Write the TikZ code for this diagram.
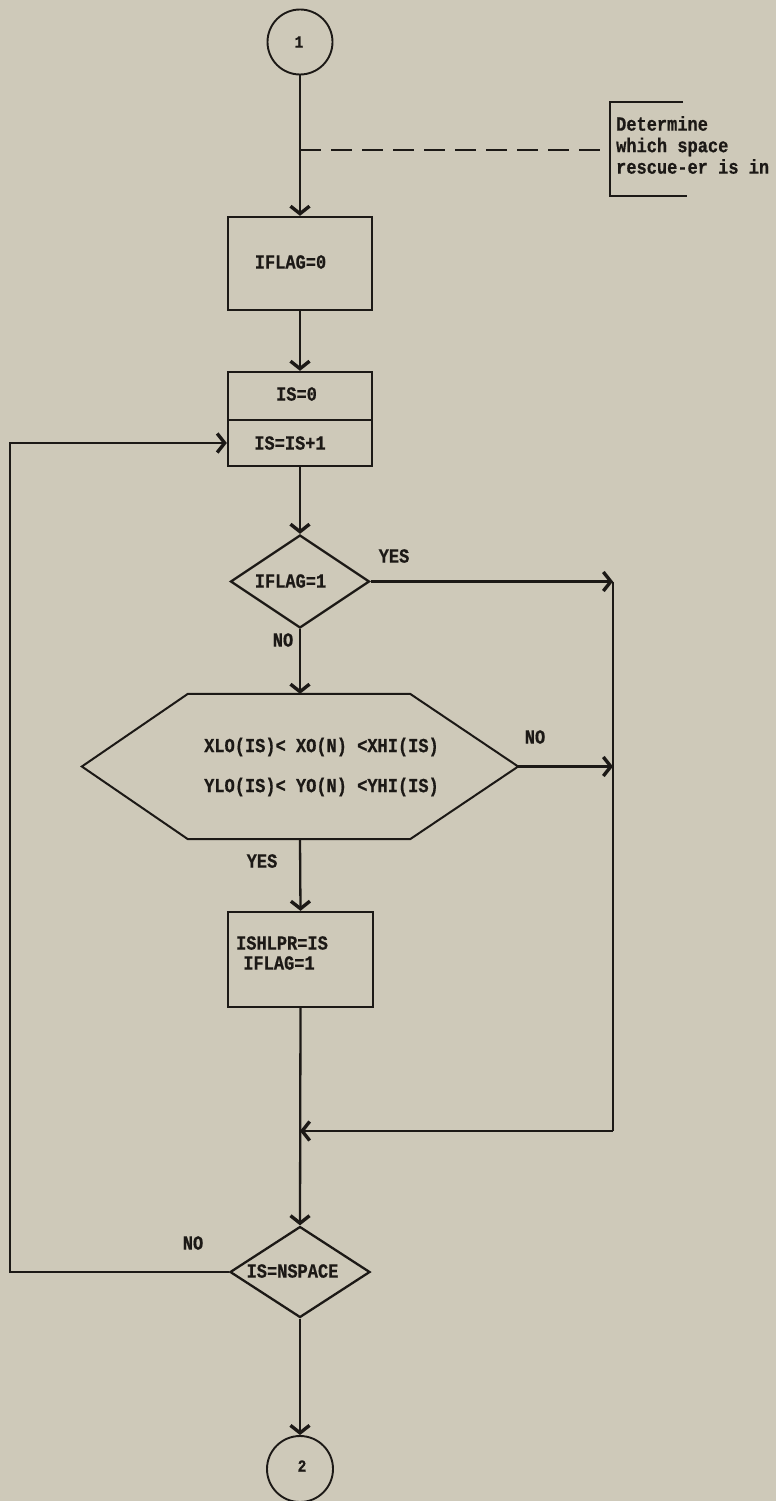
\documentclass[tikz,border=0pt]{standalone}
\usepackage{fontspec}
\newfontfamily\tw[FakeStretch=0.85,FakeBold=0.6]{Liberation Mono}
\usetikzlibrary{arrows.meta,shapes.geometric}
\definecolor{paper}{RGB}{206,201,185}
\definecolor{ink}{RGB}{28,25,22}
\begin{document}
\begin{tikzpicture}[x=1pt,y=-1pt,line width=2.3pt,color=ink,
  arr/.style={-{Straight Barb[length=7.5pt,width=19pt,line width=3.4pt]}},
  txt/.style={font=\tw\bfseries\fontsize{20}{21.5}\selectfont,text=ink,inner sep=0pt},
  box/.style={draw=ink,rectangle,minimum width=144pt,inner sep=0pt},
  dia/.style={draw=ink,diamond,inner sep=0pt},
  conn/.style={draw=ink,circle,inner sep=0pt,line width=1.9pt},
]
\useasboundingbox (0,0) rectangle (776,1501);
\fill[paper] (0,0) rectangle (776,1501);

% shapes
\node[conn,minimum size=65pt] (c1) at (300,42) {};
\node[txt,font=\tw\bfseries\fontsize{17}{19}\selectfont] (c1t) at (299,42) {1};
\node[box,minimum height=93pt] (iflag0) at (300,263.5) {};
\node[txt] (iflag0t) at (290.5,262) {IFLAG=0};
\node[box,minimum height=48pt] (is0) at (300,396) {};
\node[txt] (is0t) at (296.5,394) {IS=0};
\node[box,minimum height=46pt] (is1) at (300,443) {};
\node[txt] (is1t) at (290,443) {IS=IS+1};
\node[dia,minimum width=139pt,minimum height=93pt] (d1) at (300,581.5) {};
\node[txt] (d1t) at (290.5,581) {IFLAG=1};
\node[inner sep=0pt,minimum width=434pt,minimum height=143pt] (hex) at (300,766.5) {};
\draw[line width=2pt] (hex.west) -- ([xshift=106pt]hex.north west) -- ([xshift=-108pt]hex.north east)
  -- (hex.east) -- ([xshift=-108pt]hex.south east) -- ([xshift=106pt]hex.south west) -- cycle;
\node[txt] (hx1) at (321.5,747) {XLO(IS)< XO(N) <XHI(IS)};
\node[txt] (hx2) at (321.5,787) {YLO(IS)< YO(N) <YHI(IS)};
\node[box,minimum width=145pt,minimum height=95pt] (ish) at (300.5,959.5) {};
\node[txt] (isht1) at (282,943) {ISHLPR=IS};
\node[txt] (isht2) at (279,963) {IFLAG=1};
\node[dia,minimum width=140pt,minimum height=91pt] (d2) at (300,1272) {};
\node[txt] (d2t) at (292.5,1271) {IS=NSPACE};
\node[conn,minimum size=66pt] (c2) at (300,1469) {};
\node[txt,font=\tw\bfseries\fontsize{17}{19}\selectfont] (c2t) at (302,1466) {2};

% annotation
\coordinate (dstart) at (300,150);
\coordinate (brk) at (610,150);
\draw[line width=2.4pt,dash pattern=on 21pt off 10pt] (dstart) -- (brk);
\draw (683,102) -- (610,102) -- (610,196) -- (687,196);
\node[txt,align=left,anchor=west] (note) at (615,145) {Determine\\which space\\rescue-er is in};

% labels
\node[txt] (yes1) at (394,556) {YES};
\node[txt] (no1) at (283,640) {NO};
\node[txt] (no2) at (535,737) {NO};
\node[txt] (yes2) at (262,861) {YES};
\node[txt] (no3) at (193,1243) {NO};

% junction coordinates
\coordinate (jr1) at (613,581.5);
\coordinate (jr2) at (613,766.5);
\coordinate (jr3) at (613,1131);
\coordinate (jl) at (300,1131);
\coordinate (lp) at (10,1272);

% connectors
\draw[arr] (c1.south) -- (iflag0.north);
\draw[arr] (iflag0.south) -- (is0.north);
\draw[arr] (is1.south) -- (d1.north);
\draw[arr] (d1.south) -- (hex.north);
\draw[arr] (hex.south) -- (ish.north);
\draw[arr] (ish.south) -- (d2.north);
\draw[arr] (d2.south) -- (c2.north);
\draw[arr] (d1.east) -- (jr1);
\draw (jr1) -- (jr3);
\draw[arr] (hex.east) -- (jr2);
\draw[arr] (jr3) -- (jl);
\draw[arr] (d2.west) -- (lp) |- (is1.west);
\end{tikzpicture}
\end{document}
